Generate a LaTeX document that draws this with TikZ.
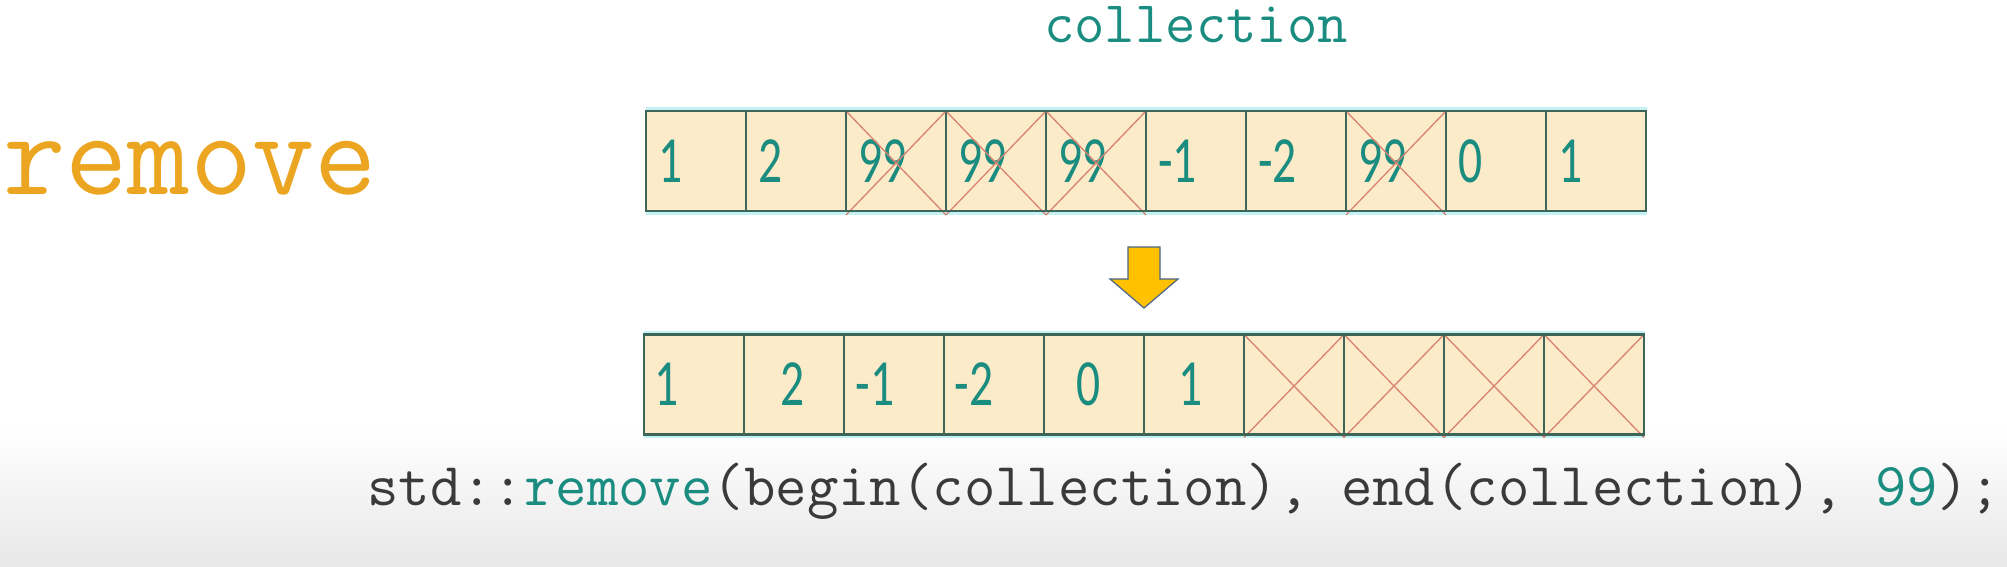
\documentclass[tikz,border=0pt]{standalone}
\usepackage{fontspec}
\newfontfamily\cellfont[FakeStretch=0.72]{Carlito}
\definecolor{cellfill}{HTML}{FCEBC8}
\definecolor{cellline}{HTML}{3E6658}
\definecolor{halo}{HTML}{C4F1F3}
\definecolor{crossred}{HTML}{D98270}
\definecolor{tealtxt}{HTML}{1B8C80}
\definecolor{codegray}{HTML}{3A3A3A}
\definecolor{goldtxt}{HTML}{EBA520}
\definecolor{arrowfill}{HTML}{FFC000}
\definecolor{arrowline}{HTML}{4A6585}
\tikzset{
  cellbox/.style={draw=cellline,line width=1.4pt,fill=cellfill,minimum width=100pt,minimum height=100pt,inner sep=0pt,outer sep=0pt},
  celltext/.style={font=\cellfont\fontsize{66}{66}\selectfont,text=tealtxt,inner sep=0pt,anchor=west},
  crossline/.style={draw=crossred,line width=1.3pt},
  outerline/.style={draw=cellline,line width=2.6pt},
  haloline/.style={draw=halo,line width=4pt},
  codetext/.style={font=\ttfamily\fontsize{59}{59}\selectfont,inner sep=0pt}
}
\begin{document}
\begin{tikzpicture}[x=1pt,y=-1pt]
\useasboundingbox (0,0) rectangle (2007,566);
\shade[top color=white,bottom color=black!9] (0,425) rectangle (2007,566);
% title texts
\node[codetext,text=tealtxt,anchor=base] (title) at (1196,42) {collection};
\node[font=\ttfamily\fontsize{121}{121}\selectfont,text=goldtxt,inner sep=0pt,anchor=base west] (name) at (3,194) {remove};
% halos
\draw[haloline] (646,109) -- (1647,109) (646,213) -- (1647,213);
\draw[haloline] (644,333) -- (1645,333) (644,436) -- (1645,436);
% top row
\foreach \i in {0,...,9} {
  \node[cellbox] (t\i) at (696+100*\i,161) {};
}
\foreach \i/\v in {0/1,1/2,2/99,3/99,4/99,5/-1,6/-2,7/99,8/0,9/1} {
  \node[celltext] (tl\i) at ([xshift=12pt]t\i.west) {\v};
}
\foreach \i in {2,3,4,7} {
  \draw[crossline] (t\i.north west) -- ([yshift=-4pt]t\i.south east);
  \draw[crossline] (t\i.north east) -- ([yshift=-4pt]t\i.south west);
}
\draw[outerline] (t0.north west) rectangle (t9.south east);
% arrow
\draw[fill=arrowfill,draw=arrowline,line width=1.2pt,line join=miter]
  (1128,247) -- (1160,247) -- (1160,279) -- (1178,279) -- (1144,308) -- (1110,279) -- (1128,279) -- cycle;
% bottom row
\foreach \i in {0,...,9} {
  \node[cellbox] (b\i) at (694+100*\i,384.5) {};
}
\node[celltext,anchor=center] (bl0) at (667,384.5) {1};
\node[celltext,anchor=center] (bl1) at (793,384.5) {2};
\node[celltext,anchor=center] (bl2) at (875,384.5) {-1};
\node[celltext,anchor=center] (bl3) at (974,384.5) {-2};
\node[celltext,anchor=center] (bl4) at (1089,384.5) {0};
\node[celltext,anchor=center] (bl5) at (1191,384.5) {1};
\foreach \i in {6,...,9} {
  \draw[crossline] (b\i.north west) -- ([yshift=-3pt]b\i.south east);
  \draw[crossline] (b\i.north east) -- ([yshift=-3pt]b\i.south west);
}
\draw[outerline] (b0.north west) rectangle (b9.south east);
% code line
\node[font=\ttfamily\fontsize{61}{61}\selectfont,inner sep=0pt,text=codegray,anchor=base west] (code) at (367,505)
  {std::\textcolor{tealtxt}{remove}(begin(collection), end(collection), \textcolor{tealtxt}{99});};
\end{tikzpicture}
\end{document}
